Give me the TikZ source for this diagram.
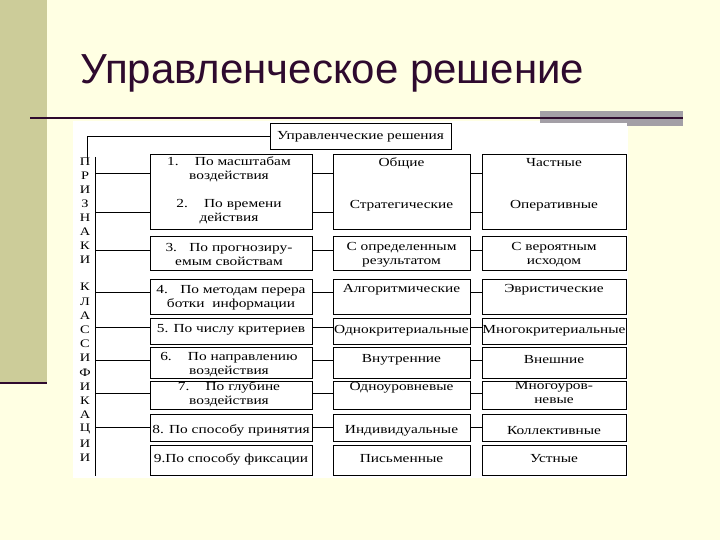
\documentclass[tikz,border=0pt]{standalone}
\usepackage{fontspec}
\setmainfont{Liberation Serif}
\newfontfamily\titlefont{Liberation Sans}
\newfontfamily\scanfont[FakeStretch=1.25]{Liberation Serif}
\usetikzlibrary{positioning, fit, calc}
\definecolor{slidebg}{HTML}{FFFFE3}
\definecolor{slideolive}{HTML}{CCCC99}
\definecolor{slidedark}{HTML}{2E0A2E}
\definecolor{slidegrey}{HTML}{A39FA6}
\tikzset{
  % --- slide template ---
  slidetitle/.style={font=\titlefont\fontsize{42}{48}\selectfont, text=slidedark,
    anchor=base west, inner sep=0pt},
  sliderule/.style={slidedark, line width=2.4pt},
  % --- scanned scheme ---
  schemebox/.style={draw, line width=1pt, inner sep=0pt},
  schemetext/.style={font=\scanfont\fontsize{12.3}{14}\selectfont, align=center, inner sep=0pt},
  sideletter/.style={font=\scanfont\fontsize{11.5}{12}\selectfont, inner sep=0pt},
  schemeline/.style={line width=1pt},
}

\begin{document}
\begin{tikzpicture}[x=1pt, y=-1pt]
    \useasboundingbox (0,0) rectangle (720,540);
    % slide background
    \fill[slidebg] (0,0) rectangle (720,540);
    \fill[slideolive] (0,0) rectangle (47,383);
    \draw[sliderule] (0,383) -- (47,383);
    \fill[white] (73,121) rectangle (628,478);
    \fill[slidegrey] (540,111) rectangle (683,123);
    \fill[slidegrey] (627,123) rectangle (683,126);
    \draw[sliderule] (30,118) -- (683,118);
    \node[slidetitle] (title) at (80,84) {Управленческое решение};
    % top of the scheme
    \node[schemebox, fit={(270,124) (451,150)}] (top) {};
    \node[schemetext] (toptxt) at (top.center) {Управленческие решения};
    % criteria column
    \node[schemebox, fit={(150,155) (312,230)}] (c12) {};
    \node[schemebox, fit={(150,236) (312,270)}] (c3) {};
    \node[schemebox, fit={(150,279) (312,314)}] (c4) {};
    \node[schemebox, fit={(150,318) (312,344)}] (c5) {};
    \node[schemebox, fit={(150,347) (312,378)}] (c6) {};
    \node[schemebox, fit={(150,381) (312,409)}] (c7) {};
    \node[schemebox, fit={(150,414) (312,441)}] (c8) {};
    \node[schemebox, fit={(150,445) (312,475)}] (c9) {};
    % first kind column
    \node[schemebox, fit={(333,155) (470,230)}] (m12) {};
    \node[schemebox, fit={(333,236) (470,270)}] (m3) {};
    \node[schemebox, fit={(333,279) (470,314)}] (m4) {};
    \node[schemebox, fit={(333,318) (470,344)}] (m5) {};
    \node[schemebox, fit={(333,347) (470,378)}] (m6) {};
    \node[schemebox, fit={(333,381) (470,409)}] (m7) {};
    \node[schemebox, fit={(333,414) (470,441)}] (m8) {};
    \node[schemebox, fit={(333,445) (470,475)}] (m9) {};
    % second kind column
    \node[schemebox, fit={(482,155) (626,230)}] (k12) {};
    \node[schemebox, fit={(482,236) (626,270)}] (k3) {};
    \node[schemebox, fit={(482,279) (626,314)}] (k4) {};
    \node[schemebox, fit={(482,318) (626,344)}] (k5) {};
    \node[schemebox, fit={(482,347) (626,378)}] (k6) {};
    \node[schemebox, fit={(482,381) (626,409)}] (k7) {};
    \node[schemebox, fit={(482,414) (626,441)}] (k8) {};
    \node[schemebox, fit={(482,445) (626,475)}] (k9) {};
    % texts
    \node[schemetext] (t1) at (229,169.5) {1.\quad\ По масштабам\\воздействия};
    \node[schemetext] (t2) at (229,212) {2.\quad\ По времени\\действия};
    \node[schemetext] (t3) at (229,254.5) {3.\quad По прогнозиру-\\емым свойствам};
    \node[schemetext] (t4) at (231,297.5) {4.\quad По методам перера\\ботки\ \ информации};
    \node[schemetext] (t5) at (231,330) {5. По числу критериев};
    \node[schemetext] (t6) at (229,365) {6.\quad\ По направлению\\воздействия};
    \node[schemetext] (t7) at (229,394) {7.\quad\ По глубине\\воздействия};
    \node[schemetext] (t8) at (231,430) {8. По способу принятия};
    \node[schemetext] (t9) at (231,459) {9.По способу фиксации};
    \node[schemetext] (u1) at (401.5,163) {Общие};
    \node[schemetext] (u2) at (401.5,206) {Стратегические};
    \node[schemetext] (u3) at (401.5,254.5) {С определенным\\результатом};
    \node[schemetext] (u4) at (401.5,290) {Алгоритмические};
    \node[schemetext] (u5) at (401.5,331) {Однокритериальные};
    \node[schemetext] (u6) at (401.5,360) {Внутренние};
    \node[schemetext] (u7) at (401.5,388) {Одноуровневые};
    \node[schemetext] (u8) at (401.5,431) {Индивидуальные};
    \node[schemetext] (u9) at (401.5,459) {Письменные};
    \node[schemetext] (v1) at (554,163) {Частные};
    \node[schemetext] (v2) at (554,206) {Оперативные};
    \node[schemetext] (v3) at (554,254.5) {С вероятным\\исходом};
    \node[schemetext] (v4) at (554,290) {Эвристические};
    \node[schemetext] (v5) at (554,331) {Многокритериальные};
    \node[schemetext] (v6) at (554,360) {Внешние};
    \node[schemetext] (v7) at (554,393) {Многоуров-\\невые};
    \node[schemetext] (v8) at (554,431) {Коллективные};
    \node[schemetext] (v9) at (554,459) {Устные};
    % side caption, letter by letter
    \foreach \l [count=\i] in {П,Р,И,З,Н,А,К,И}
      \node[sideletter] (pa\i) at (85,148+14*\i) {\l};
    \foreach \l [count=\i] in {К,Л,А,С,С,И,Ф,И,К,А,Ц,И,И}
      \node[sideletter] (ka\i) at (85,273+14.2*\i) {\l};
    % spine and branches
    \coordinate (hook) at (87,162);
    \coordinate (sptop) at (95,157);
    \coordinate (spbot) at (95,476);
    \draw[schemeline] (top.west) -| (hook);
    \draw[schemeline] (sptop) -- (spbot);
    \foreach \i/\y in {1/174,2/213,3/250,4/292,5/327,6/360,7/393,8/427}{
      \coordinate (r\i) at (0,\y); }
    \draw[schemeline] (sptop |- r1) -- (c12.west |- r1);
    \draw[schemeline] (sptop |- r2) -- (c12.west |- r2);
    \draw[schemeline] (sptop |- r3) -- (c3.west |- r3);
    \draw[schemeline] (sptop |- r4) -- (c4.west |- r4);
    \draw[schemeline] (sptop |- r5) -- (c5.west |- r5);
    \draw[schemeline] (sptop |- r6) -- (c6.west |- r6);
    \draw[schemeline] (sptop |- r7) -- (c7.west |- r7);
    \draw[schemeline] (sptop |- r8) -- (c8.west |- r8);
    \draw[schemeline] (c12.east |- r1) -- (m12.west |- r1);
    \draw[schemeline] (c12.east |- r2) -- (m12.west |- r2);
    \draw[schemeline] (c3.east |- r3) -- (m3.west |- r3);
    \draw[schemeline] (c4.east |- r4) -- (m4.west |- r4);
    \draw[schemeline] (c5.east |- r5) -- (m5.west |- r5);
    \draw[schemeline] (c6.east |- r6) -- (m6.west |- r6);
    \draw[schemeline] (c7.east |- r7) -- (m7.west |- r7);
    \draw[schemeline] (c8.east |- r8) -- (m8.west |- r8);
    \draw[schemeline] (m12.east |- r1) -- (k12.west |- r1);
    \draw[schemeline] (m12.east |- r2) -- (k12.west |- r2);
    \draw[schemeline] (m3.east |- r3) -- (k3.west |- r3);
    \draw[schemeline] (m4.east |- r4) -- (k4.west |- r4);
    \draw[schemeline] (m5.east |- r5) -- (k5.west |- r5);
    \draw[schemeline] (m6.east |- r6) -- (k6.west |- r6);
    \draw[schemeline] (m7.east |- r7) -- (k7.west |- r7);
    \draw[schemeline] (m8.east |- r8) -- (k8.west |- r8);
\end{tikzpicture}
\end{document}
